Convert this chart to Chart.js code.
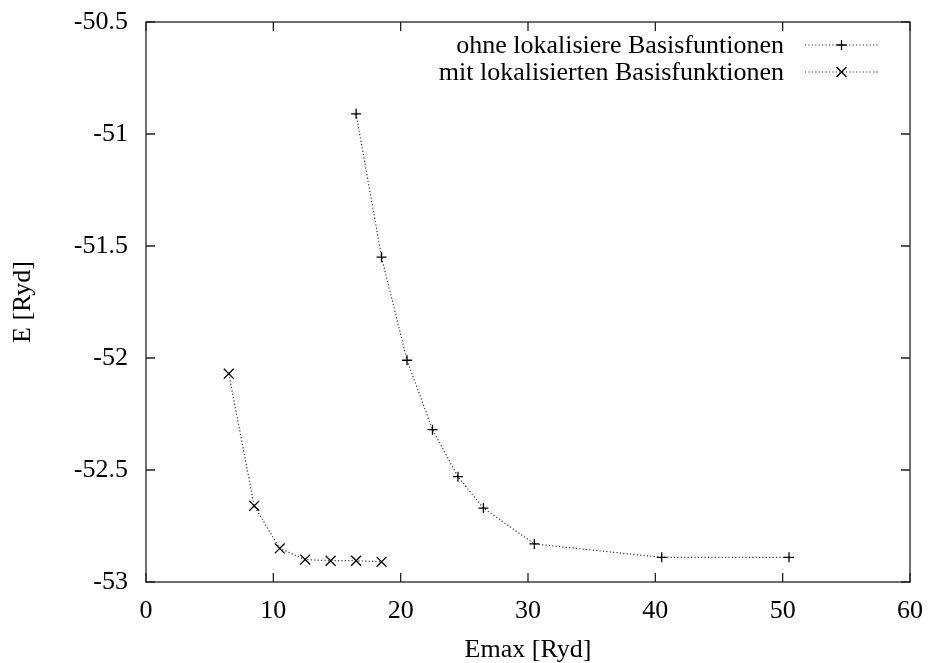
<!DOCTYPE html>
<html>
<head>
<meta charset="utf-8">
<script src="https://cdn.jsdelivr.net/npm/chart.js@4/dist/chart.umd.min.js"></script>
<style>
  body { margin: 0; background: #fff; }
  #wrap { width: 928px; height: 663px; }
</style>
</head>
<body>
<div id="wrap"><canvas id="energyChart" width="928" height="663"></canvas></div>
<script>
// data
const ohneX = [16.5, 18.5, 20.5, 22.5, 24.5, 26.5, 30.5, 40.5, 50.5];
const ohneY = [-50.91, -51.55, -52.01, -52.32, -52.53, -52.67, -52.83, -52.89, -52.89];
const mitX = [6.5, 8.5, 10.5, 12.5, 14.5, 16.5, 18.5];
const mitY = [-52.07, -52.66, -52.85, -52.90, -52.905, -52.905, -52.91];
const xTicks = [0, 10, 20, 30, 40, 50, 60];
const yTicks = [-53, -52.5, -52, -51.5, -51, -50.5];
const seriesNames = ["ohne lokalisiere Basisfuntionen", "mit lokalisierten Basisfunktionen"];

const FONT = "'Liberation Serif', 'Times New Roman', serif";
const FONT_SIZE = 26;
const INK = "#000";

function toPoints(xs, ys) {
  return xs.map((x, i) => ({ x: x, y: ys[i] }));
}

// gnuplot style frame: border plus inward ticks on all four sides, and a key inside
const gnuplotFrame = {
  id: "gnuplotFrame",
  afterDatasetsDraw(chart) {
    const { ctx, chartArea: a, scales } = chart;
    const len = 9;
    ctx.save();
    ctx.strokeStyle = "#222";
    ctx.lineWidth = 1.3;
    ctx.strokeRect(a.left, a.top, a.right - a.left, a.bottom - a.top);
    ctx.beginPath();
    scales.x.ticks.forEach(t => {
      const px = scales.x.getPixelForValue(t.value);
      ctx.moveTo(px, a.bottom); ctx.lineTo(px, a.bottom - len);
      ctx.moveTo(px, a.top); ctx.lineTo(px, a.top + len);
    });
    scales.y.ticks.forEach(t => {
      const py = scales.y.getPixelForValue(t.value);
      ctx.moveTo(a.left, py); ctx.lineTo(a.left + len, py);
      ctx.moveTo(a.right, py); ctx.lineTo(a.right - len, py);
    });
    ctx.stroke();

    // key
    const textRight = a.right - 126;
    const lineStart = a.right - 105;
    const lineEnd = a.right - 32;
    chart.data.datasets.forEach((ds, i) => {
      const cy = a.top + 23 + i * 27;
      ctx.fillStyle = INK;
      ctx.font = FONT_SIZE + "px " + FONT;
      ctx.textAlign = "right";
      ctx.textBaseline = "alphabetic";
      ctx.fillText(ds.label, textRight, cy + 8);

      ctx.strokeStyle = ds.borderColor;
      ctx.lineWidth = ds.borderWidth;
      ctx.setLineDash(ds.borderDash);
      ctx.beginPath();
      ctx.moveTo(lineStart, cy);
      ctx.lineTo(lineEnd, cy);
      ctx.stroke();
      ctx.setLineDash([]);

      ctx.strokeStyle = ds.pointBorderColor;
      ctx.lineWidth = ds.pointBorderWidth;
      Chart.helpers.drawPoint(ctx, {
        pointStyle: ds.pointStyle,
        radius: ds.pointRadius,
        rotation: 0,
        borderWidth: ds.pointBorderWidth
      }, (lineStart + lineEnd) / 2, cy);
    });
    ctx.restore();
  }
};

const ctx = document.getElementById("energyChart").getContext("2d");
new Chart(ctx, {
  type: "scatter",
  data: {
    datasets: [
      {
        label: seriesNames[0],
        data: toPoints(ohneX, ohneY),
        showLine: true,
        borderColor: "#333",
        borderWidth: 1.2,
        borderDash: [1.2, 2.2],
        pointStyle: "cross",
        pointRadius: 5,
        pointBorderWidth: 1.3,
        pointBorderColor: INK,
        pointBackgroundColor: INK
      },
      {
        label: seriesNames[1],
        data: toPoints(mitX, mitY),
        showLine: true,
        borderColor: "#333",
        borderWidth: 1.2,
        borderDash: [1.2, 2.2],
        pointStyle: "crossRot",
        pointRadius: 7,
        pointBorderWidth: 1.3,
        pointBorderColor: INK,
        pointBackgroundColor: INK
      }
    ]
  },
  options: {
    responsive: false,
    animation: false,
    devicePixelRatio: 1,
    layout: { padding: { top: 22, right: 18, bottom: 0, left: 0 } },
    plugins: {
      legend: { display: false },
      tooltip: { enabled: false }
    },
    scales: {
      x: {
        type: "linear",
        min: 0,
        max: 60,
        afterBuildTicks: s => { s.ticks = xTicks.map(v => ({ value: v })); },
        afterFit: s => { s.height = 81; s.paddingLeft = 0; s.paddingRight = 0; },
        grid: { display: false, drawTicks: false },
        border: { display: false },
        ticks: {
          padding: 14,
          color: INK,
          font: { family: FONT, size: FONT_SIZE },
          maxRotation: 0,
          callback: v => String(v)
        },
        title: {
          display: true,
          text: "Emax [Ryd]",
          color: INK,
          font: { family: FONT, size: FONT_SIZE, lineHeight: 1 },
          padding: { top: 0, bottom: 0 }
        }
      },
      y: {
        type: "linear",
        min: -53,
        max: -50.5,
        afterBuildTicks: s => { s.ticks = yTicks.map(v => ({ value: v })); },
        afterFit: s => { s.width = 146; s.paddingTop = 0; s.paddingBottom = 0; },
        grid: { display: false, drawTicks: false },
        border: { display: false },
        ticks: {
          padding: 18,
          color: INK,
          font: { family: FONT, size: FONT_SIZE },
          callback: v => String(v)
        },
        title: {
          display: true,
          text: "E [Ryd]",
          color: INK,
          font: { family: FONT, size: FONT_SIZE, lineHeight: 1 },
          padding: { top: 10, bottom: 0 }
        }
      }
    }
  },
  plugins: [gnuplotFrame]
});
</script>
</body>
</html>
